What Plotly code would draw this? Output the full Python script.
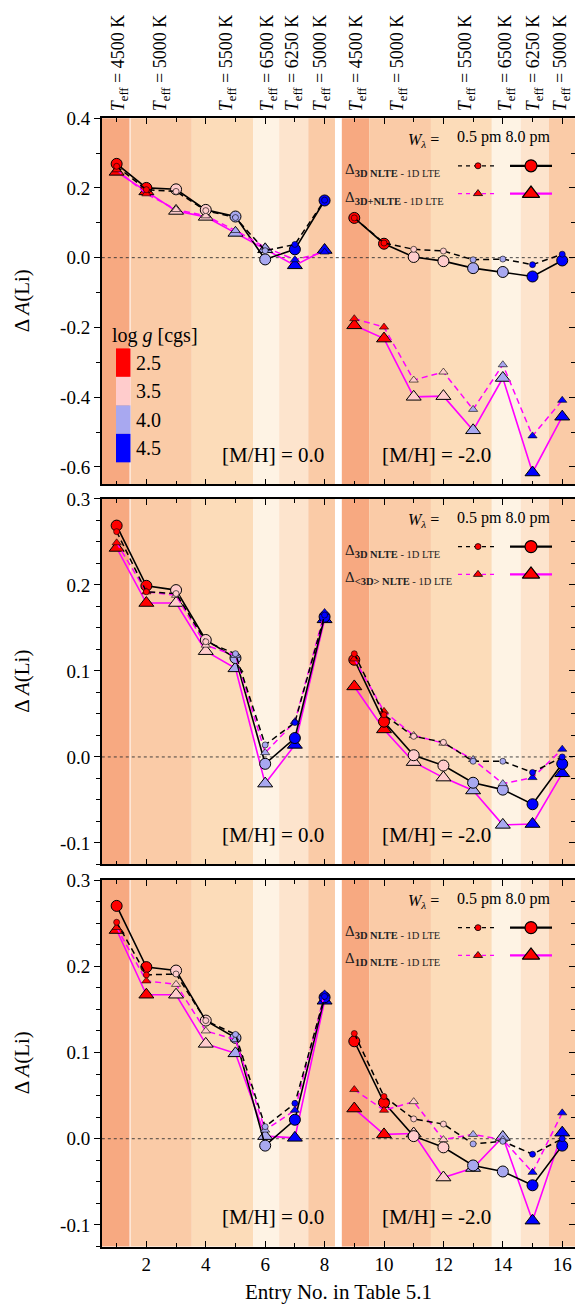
import plotly.graph_objects as go

W, H = 575, 1313
FONT = "Liberation Serif, Times New Roman, Times, serif"

# ---------------- data ----------------
entries = list(range(1, 17))
logg = [2.5, 2.5, 3.5, 3.5, 4.0, 4.0, 4.5, 4.5,
        2.5, 2.5, 3.5, 3.5, 4.0, 4.0, 4.5, 4.5]
teff_labels = ["4500", "5000", "5500", "6500", "6250", "5000",
               "4500", "5000", "5500", "6500", "6250", "5000"]
band_teff = [4500, 5000, 5500, 6500, 6250, 5000,
             4500, 5000, 5500, 6500, 6250, 5000]
band_edges_left = [0.5, 1.45, 3.53, 5.6, 6.47, 7.45, 8.35]
band_edges_right = [8.58, 9.5, 11.58, 13.63, 14.6, 15.55, 16.5]
logg_levels = [2.5, 3.5, 4.0, 4.5]
logg_names = ["2.5", "3.5", "4.0", "4.5"]
metallicity_labels = ["[M/H] = 0.0", "[M/H] = -2.0"]

# Panel 1: 3D NLTE - 1D LTE and 3D+NLTE - 1D LTE
p1_3d_8 = [0.269, 0.200, 0.196, 0.137, 0.118, -0.005, 0.024, 0.164,
           0.114, 0.040, 0.002, -0.010, -0.030, -0.041, -0.054, -0.008]
p1_3d_05 = [0.262, 0.195, 0.190, 0.135, 0.115, 0.020, 0.038, 0.165,
            0.114, 0.042, 0.024, 0.019, -0.006, -0.004, -0.020, 0.010]
p1_alt_8 = [0.246, 0.190, 0.134, 0.117, 0.071, 0.024, -0.022, 0.022,
            -0.194, -0.232, -0.399, -0.397, -0.495, -0.345, -0.616, -0.456]
p1_alt_05 = [0.252, 0.183, 0.138, 0.120, 0.078, 0.030, -0.006, 0.016,
             -0.175, -0.199, -0.351, -0.328, -0.435, -0.307, -0.511, -0.409]

# Panel 2: 3D NLTE - 1D LTE and <3D> NLTE - 1D LTE
p2_3d_8 = [0.269, 0.199, 0.194, 0.136, 0.115, -0.008, 0.022, 0.163,
           0.113, 0.041, 0.002, -0.010, -0.030, -0.038, -0.055, -0.008]
p2_3d_05 = [0.262, 0.192, 0.190, 0.134, 0.120, 0.014, 0.040, 0.165,
            0.120, 0.049, 0.024, 0.017, -0.005, -0.005, -0.018, 0.000]
p2_alt_8 = [0.243, 0.179, 0.179, 0.123, 0.103, -0.031, 0.014, 0.160,
            0.082, 0.032, -0.006, -0.024, -0.039, -0.079, -0.078, -0.019]
p2_alt_05 = [0.249, 0.192, 0.188, 0.130, 0.118, 0.005, 0.041, 0.168,
             0.114, 0.053, 0.025, 0.016, -0.003, -0.031, -0.024, 0.009]

# Panel 3: 3D NLTE - 1D LTE and 1D NLTE - 1D LTE
p3_3d_8 = [0.270, 0.199, 0.195, 0.137, 0.117, -0.008, 0.022, 0.164,
           0.113, 0.042, 0.003, -0.010, -0.031, -0.038, -0.054, -0.008]
p3_3d_05 = [0.251, 0.190, 0.191, 0.137, 0.121, 0.014, 0.041, 0.165,
            0.122, 0.049, 0.023, 0.017, -0.006, -0.003, -0.018, 0.000]
p3_alt_8 = [0.242, 0.167, 0.167, 0.110, 0.099, 0.003, 0.001, 0.160,
            0.035, 0.005, 0.006, -0.045, -0.034, 0.002, -0.095, 0.007]
p3_alt_05 = [0.245, 0.183, 0.179, 0.125, 0.115, 0.010, 0.033, 0.168,
             0.057, 0.033, 0.043, -0.001, 0.005, -0.001, -0.039, 0.030]

alt_names = ["3D+NLTE", "&lt;3D&gt; NLTE", "1D NLTE"]

# ---------------- styling / layout constants ----------------
logg_colors = {2.5: "#FF0000", 3.5: "#FFCCCC", 4.0: "#A8A8F0", 4.5: "#0000FF"}
teff_colors = {4500: "#F7A981", 5000: "#FACBA7", 5500: "#FCDCB9",
               6500: "#FEF3E4", 6250: "#FDE4CD"}
PLOT_L = 101.8
X_RANGE = [0.5, 16.43]
panels_px = [(109.0, 478.0), (492.7, 861.0), (876.7, 1246.0)]
y_ranges = [[-0.65, 0.4], [-0.125, 0.3], [-0.125, 0.3]]
y_major = [[-0.6, -0.4, -0.2, 0.0, 0.2, 0.4],
           [-0.1, 0.0, 0.1, 0.2, 0.3],
           [-0.1, 0.0, 0.1, 0.2, 0.3]]
y_minor_step = [0.1, 0.025, 0.025]
teff_label_px = [119, 161, 227, 268, 293, 321, 357, 398, 466, 506, 534, 561]


def px_x(px):
    return px / W


def px_y(py):
    return 1 - py / H


def split(vals):
    return vals[:8] + [None] + vals[8:]


xs = split(entries)
cols = split([logg_colors[g] for g in logg])
cols[8] = "#000000"

series = [(p1_3d_8, p1_3d_05, p1_alt_8, p1_alt_05),
          (p2_3d_8, p2_3d_05, p2_alt_8, p2_alt_05),
          (p3_3d_8, p3_3d_05, p3_alt_8, p3_alt_05)]

fig = go.Figure()
shapes = []
annotations = []
layout = {}

for i, ((top, bot), yr, majors, mstep, ser) in enumerate(
        zip(panels_px, y_ranges, y_major, y_minor_step, series)):
    n = i + 1
    xa = "x" if n == 1 else f"x{n}"
    ya = "y" if n == 1 else f"y{n}"
    yr_name = f"y{n + 3}"
    dom = [px_y(bot), px_y(top)]

    # minor tick values
    minors = []
    v = round(yr[0] / mstep) * mstep
    while v <= yr[1] + 1e-9:
        if v >= yr[0] - 1e-9 and all(abs(v - m) > 1e-6 for m in majors):
            minors.append(round(v, 4))
        v += mstep
    ticktext = [f"{m:.1f}" for m in majors]

    layout[f"xaxis{'' if n == 1 else n}"] = dict(
        domain=[px_x(PLOT_L), 1.0], range=X_RANGE, anchor=ya,
        showline=True, linecolor="black", linewidth=1.6, mirror="ticks",
        ticks="inside", ticklen=6, tickwidth=1.2, tickcolor="black",
        tickvals=list(range(2, 17, 2)), showticklabels=(n == 3),
        tickfont=dict(family=FONT, size=19, color="black"),
        minor=dict(tickvals=list(range(1, 17, 2)), ticks="inside", ticklen=4,
                   tickwidth=1, tickcolor="black"),
        showgrid=False, zeroline=False)
    layout[f"yaxis{'' if n == 1 else n}"] = dict(
        domain=dom, range=yr, anchor=xa,
        showline=True, linecolor="black", linewidth=1.6, mirror=False,
        ticks="outside", ticklen=6, tickwidth=1.2, tickcolor="black",
        tickvals=majors, ticktext=ticktext,
        tickfont=dict(family=FONT, size=19, color="black"),
        minor=dict(tickvals=minors, ticks="outside", ticklen=4, tickwidth=1,
                   tickcolor="black"),
        showgrid=False, zeroline=False)
    layout[f"yaxis{n + 3}"] = dict(
        domain=dom, range=yr, anchor=xa, overlaying=ya, side="right",
        showline=False, ticks="inside", ticklen=6, tickwidth=1.2,
        tickcolor="black", tickvals=majors, showticklabels=False,
        minor=dict(tickvals=minors, ticks="inside", ticklen=4, tickwidth=1,
                   tickcolor="black"),
        showgrid=False, zeroline=False)
    fig.add_trace(go.Scatter(x=[None], y=[None], xaxis=xa, yaxis=yr_name,
                             showlegend=False, hoverinfo="skip"))

    # background Teff bands
    b = 0
    for edges in [band_edges_left, band_edges_right]:
        for j in range(len(edges) - 1):
            shapes.append(dict(type="rect", xref=xa, yref=f"{ya} domain",
                               x0=edges[j], x1=edges[j + 1], y0=0, y1=1,
                               fillcolor=teff_colors[band_teff[b]],
                               line=dict(width=0), layer="below"))
            b += 1
    shapes.append(dict(type="line", xref=xa, yref=f"{ya} domain",
                       x0=band_edges_left[1], x1=band_edges_left[1], y0=0, y1=1,
                       line=dict(color="white", width=1), layer="below"))
    # zero line
    shapes.append(dict(type="line", xref=f"{xa} domain", yref=ya, x0=0, x1=1,
                       y0=0, y1=0, line=dict(color="#333333", width=0.9, dash="dot"),
                       layer="below"))

    d3d_8, d3d_05, alt_8, alt_05 = ser
    fig.add_trace(go.Scatter(
        x=xs, y=split(alt_8), xaxis=xa, yaxis=ya, mode="lines+markers",
        line=dict(color="#FF00FF", width=1.6), connectgaps=False,
        marker=dict(symbol="triangle-up", size=13, color=cols,
                    line=dict(color="black", width=1)), showlegend=False))
    fig.add_trace(go.Scatter(
        x=xs, y=split(d3d_8), xaxis=xa, yaxis=ya, mode="lines+markers",
        line=dict(color="black", width=1.6), connectgaps=False,
        marker=dict(symbol="circle", size=11, color=cols,
                    line=dict(color="black", width=1)), showlegend=False))
    fig.add_trace(go.Scatter(
        x=xs, y=split(alt_05), xaxis=xa, yaxis=ya, mode="lines+markers",
        line=dict(color="#FF00FF", width=1.5, dash="6px,4px"), connectgaps=False,
        marker=dict(symbol="triangle-up", size=8, color=cols,
                    line=dict(color="black", width=0.6)), showlegend=False))
    fig.add_trace(go.Scatter(
        x=xs, y=split(d3d_05), xaxis=xa, yaxis=ya, mode="lines+markers",
        line=dict(color="black", width=1.5, dash="6px,4px"), connectgaps=False,
        marker=dict(symbol="circle", size=6, color=cols,
                    line=dict(color="black", width=0.6)), showlegend=False))

    # [M/H] labels
    for lab, cx in zip(metallicity_labels, [273, 436]):
        annotations.append(dict(text=lab, xref="paper", yref="paper",
                                x=px_x(cx), y=px_y(bot - 30), xanchor="center",
                                yanchor="middle", showarrow=False,
                                font=dict(family=FONT, size=21, color="black")))
    # y title
    annotations.append(dict(text="Δ <i>A</i>(Li)", xref="paper", yref="paper",
                            x=px_x(22), y=px_y((top + bot) / 2), textangle=-90,
                            xanchor="center", yanchor="middle", showarrow=False,
                            font=dict(family=FONT, size=21, color="black")))
    # in-panel legend text
    annotations.append(dict(text="<i>W</i><sub><i>λ</i></sub> =", xref="paper",
                            yref="paper", x=px_x(406), y=px_y(top + 22),
                            xanchor="left", yanchor="middle", showarrow=False,
                            font=dict(family=FONT, size=16, color="black")))
    annotations.append(dict(text="0.5 pm 8.0 pm", xref="paper", yref="paper",
                            x=px_x(455), y=px_y(top + 19), xanchor="left",
                            yanchor="middle", showarrow=False,
                            font=dict(family=FONT, size=16, color="black")))
    for row, sub in enumerate(["3D NLTE", alt_names[i]]):
        ry = top + 48 + 28 * row
        annotations.append(dict(
            text=f"Δ<sub><b>{sub}</b> - 1D LTE</sub>", xref="paper", yref="paper",
            x=px_x(343), y=px_y(ry + 4), xanchor="left", yanchor="middle",
            showarrow=False, font=dict(family=FONT, size=15, color="#222222")))

# Teff labels on top
for lab, px in zip(teff_labels, teff_label_px):
    annotations.append(dict(text=f"<i>T</i><sub>eff</sub> = {lab} K", xref="paper",
                            yref="paper", x=px_x(px), y=px_y(104), textangle=-90,
                            xanchor="center", yanchor="bottom", showarrow=False,
                            font=dict(family=FONT, size=18, color="black")))

# x title
annotations.append(dict(text="Entry No. in Table 5.1", xref="paper", yref="paper",
                        x=px_x(338), y=px_y(1292), xanchor="center", yanchor="middle",
                        showarrow=False, font=dict(family=FONT, size=21, color="black")))

# log g colour key
annotations.append(dict(text="log <i>g</i> [cgs]", xref="paper", yref="paper",
                        x=px_x(110), y=px_y(328), xanchor="left", yanchor="middle",
                        showarrow=False, font=dict(family=FONT, size=20, color="black")))
box_top = 341
box_h = 28.7
for k, (g, name) in enumerate(zip(logg_levels, logg_names)):
    y0 = box_top + k * box_h
    shapes.append(dict(type="rect", xref="paper", yref="paper",
                       x0=px_x(116), x1=px_x(130.5), y0=px_y(y0 + box_h), y1=px_y(y0),
                       fillcolor=logg_colors[g], line=dict(width=0)))
    annotations.append(dict(text=name, xref="paper", yref="paper", x=px_x(134),
                            y=px_y(y0 + box_h / 2), xanchor="left", yanchor="middle",
                            showarrow=False,
                            font=dict(family=FONT, size=20, color="black")))

# legend samples in a pixel-coordinate overlay
layout["xaxis4"] = dict(domain=[0, 1], range=[0, W], anchor="y7", visible=False)
layout["yaxis7"] = dict(domain=[0, 1], range=[H, 0], anchor="x4", visible=False)
for (top, bot) in panels_px:
    for row in range(2):
        ry = top + 48 + 28 * row
        is_tri = row == 1
        lc = "#FF00FF" if is_tri else "black"
        sym = "triangle-up" if is_tri else "circle"
        fig.add_trace(go.Scatter(
            x=[458, 478, 497], y=[ry, ry, ry], xaxis="x4", yaxis="y7",
            mode="lines", line=dict(color=lc, width=1.3, dash="4px,4px"),
            showlegend=False, hoverinfo="skip"))
        fig.add_trace(go.Scatter(
            x=[478], y=[ry], xaxis="x4", yaxis="y7", mode="markers",
            marker=dict(symbol=sym, size=8 if is_tri else 6, color="#FF0000",
                        line=dict(color="black", width=0.8)),
            showlegend=False, hoverinfo="skip"))
        fig.add_trace(go.Scatter(
            x=[510, 531, 552], y=[ry, ry, ry], xaxis="x4", yaxis="y7",
            mode="lines", line=dict(color=lc, width=2.2),
            showlegend=False, hoverinfo="skip"))
        fig.add_trace(go.Scatter(
            x=[531], y=[ry], xaxis="x4", yaxis="y7", mode="markers",
            marker=dict(symbol=sym, size=15 if is_tri else 12, color="#FF0000",
                        line=dict(color="black", width=1.2)),
            showlegend=False, hoverinfo="skip"))

fig.update_layout(
    width=W, height=H, margin=dict(l=0, r=0, t=0, b=0),
    paper_bgcolor="white", plot_bgcolor="rgba(0,0,0,0)",
    showlegend=False, shapes=shapes, annotations=annotations,
    font=dict(family=FONT, color="black"), **layout)

fig.write_html("out.html")
